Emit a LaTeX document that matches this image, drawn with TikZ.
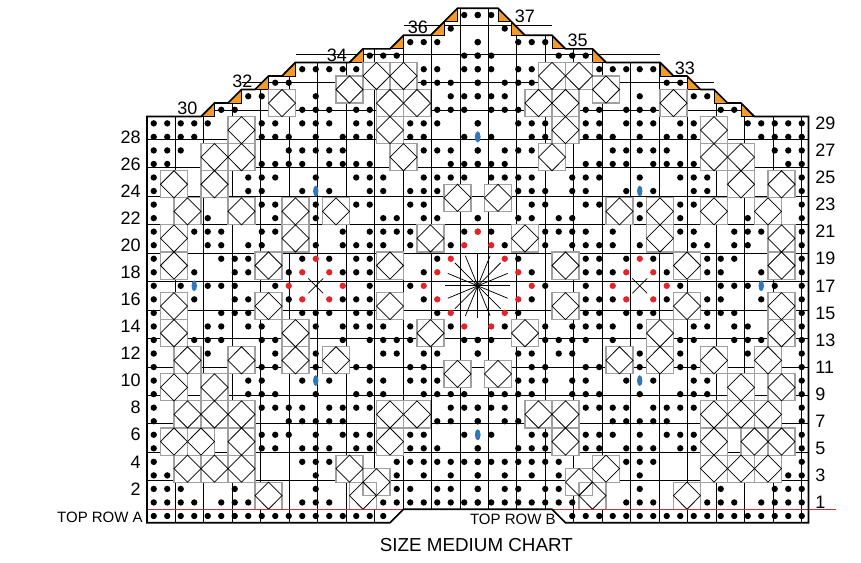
\documentclass[tikz,border=0pt]{standalone}
\usepackage{fontspec}
\setmainfont{Liberation Sans}
\definecolor{orng}{HTML}{F39A2B}
\definecolor{bluest}{HTML}{2E78BE}
\definecolor{redst}{HTML}{E3242B}
\definecolor{redline}{HTML}{C8323A}
\definecolor{blockgray}{HTML}{A0A0A0}
\newcommand\kdots[2]{\foreach \c in {#2}{\fill (\c+0.5,#1-0.5) circle (0.235); \fill (48.5-\c,#1-0.5) circle (0.235);}}
\newcommand\kred[2]{\foreach \c in {#2}{\fill[redst] (\c+0.5,#1-0.5) circle (0.235); \fill[redst] (48.5-\c,#1-0.5) circle (0.235);}}
\newcommand\kblue[2]{\foreach \c in {#2}{\fill[bluest] (\c+0.5,#1-0.5) ellipse (0.2 and 0.4); \fill[bluest] (48.5-\c,#1-0.5) ellipse (0.2 and 0.4);}}
\def\dialist{6/28,17/28,4/26,6/26,18/26,1/24,4/24,22/23,2/22,6/22,10/22,13/22,1/20,10/20,20/20,1/18,8/18,17/18,9/30,17/30,19/30,14/31,16/32,18/32,6/5,17/5,4/7,6/7,17/7,19/7,1/9,4/9,22/10,2/11,6/11,10/11,13/11,1/13,10/13,20/13,1/15,8/15,17/15,2/7,1/5,3/5,2/3,4/3,6/3,14/3,16/2,8/1,15/1}
\begin{document}
\begin{tikzpicture}[x=13.5pt,y=13.54pt,
  gridline/.style={black,line width=0.85pt},
  outline/.style={black,line width=1.7pt,line join=miter},
  blockedge/.style={blockgray,line width=1.1pt},
  diamondline/.style={black,line width=0.75pt},
  lbl/.style={font=\fontsize{18}{18}\selectfont,inner sep=0pt},
  smalllbl/.style={font=\fontsize{15}{15}\selectfont,inner sep=0pt},
  titlelbl/.style={font=\fontsize{18.8}{19}\selectfont,inner sep=0pt}]
\useasboundingbox (-10.889,-3.966) rectangle (52.889,37.61);
\fill[white] (-10.889,-3.966) rectangle (52.889,37.61);
% grid
\draw[gridline] (0,0) grid (49,29);
\draw[gridline] (0,-1) grid (18,0);
\draw[gridline] (31,-1) grid (49,0);
\draw[gridline] (18,-1) -- (19,0);
\draw[gridline] (30,0) -- (31,-1);
\foreach \r/\a/\b in {30/5/43,31/7/41,32/9/39,33/11/37,34/16/32,35/19/29,36/22/26,37/23/25}{
  \draw[gridline] (\a,\r-1) grid (\b+1,\r);
  \fill[orng] (\a-1,\r-1) -- (\a,\r-1) -- (\a,\r) -- cycle;
  \fill[orng] (\b+1,\r-1) -- (\b+2,\r-1) -- (\b+1,\r) -- cycle;
  \draw[gridline] (\a-1,\r-1) -- (\a,\r-1) -- (\a,\r);
  \draw[gridline] (\b+2,\r-1) -- (\b+1,\r-1) -- (\b+1,\r);
}
% diamond blocks
\foreach \c/\r in \dialist{
  \fill[white] (\c,\r-1) rectangle ++(2,2);
  \fill[white] (47-\c,\r-1) rectangle ++(2,2);
}
\foreach \c/\r in \dialist{
  \draw[blockedge] (\c,\r-1) rectangle ++(2,2);
  \draw[blockedge] (47-\c,\r-1) rectangle ++(2,2);
}
\foreach \c/\r in \dialist{
  \draw[diamondline] (\c+1,\r-1) -- (\c+2,\r) -- (\c+1,\r+1) -- (\c,\r) -- cycle;
  \draw[diamondline] (48-\c,\r-1) -- (49-\c,\r) -- (48-\c,\r+1) -- (47-\c,\r) -- cycle;
}
% stitches
\kdots{37}{23,24}
\kdots{36}{22}
\kdots{35}{19,20,21,24}
\kdots{34}{16,17,18,23,24}
\kdots{33}{11,12,13,14,15,20,21,23,24}
\kdots{32}{9,10,20,21,22,24}
\kdots{31}{7,8,12,22,23,24}
\kdots{30}{5,6,11,12,13,15,16,21,22,23}
\kdots{29}{0,1,2,3,4,8,9,11,12,13,15,16,19,20,21,24}
\kdots{28}{0,1,2,3,8,9,10,12,14,15,16,19,20,23}
\kblue{28}{24}
\kdots{27}{0,1,2,10,11,12,13,14,20,21,22,24}
\kdots{26}{0,1,8,9,10,11,13,14,15,16,22,23,24}
\kdots{25}{0,7,8,9,12,15,16,17,20,21,22,23}
\kdots{24}{0,7,8,11,13,16,17,19,20,21}
\kblue{24}{12}
\kdots{23}{0,8,9,12,15,16,19,20}
\kdots{22}{0,4,9,12,17,18,20,21,24}
\kdots{21}{0,3,4,5,8,9,14,16,17,18,19,23}
\kred{21}{24}
\kdots{20}{0,4,5,7,8,12,14,15,16,17,19,22}
\kred{20}{23}
\kdots{19}{0,5,6,7,11,13,15,16,21}
\kred{19}{12,22}
\kdots{18}{0,3,6,7,10,14,15,16,20}
\kred{18}{11,13,21}
\kdots{17}{0,2,4,5,6,9,16,19}
\kblue{17}{3}
\kred{17}{10,14,20}
\kdots{16}{0,3,6,7,10,14,15,16,20}
\kred{16}{11,13,21}
\kdots{15}{0,5,6,7,11,12,13,15,16,21}
\kred{15}{22}
\kdots{14}{0,4,5,7,8,12,14,15,16,17,19,22}
\kred{14}{23}
\kdots{13}{0,3,4,5,8,9,14,16,17,18,19,23,24}
\kdots{12}{0,4,9,12,17,18,20,21,24}
\kdots{11}{0,8,9,12,15,16,19,20}
\kdots{10}{0,7,8,11,13,16,17,19,20,21}
\kblue{10}{12}
\kdots{9}{0,7,8,9,12,15,16,17,20,21,22,23}
\kdots{8}{0,8,9,10,11,13,14,15,16,22,23,24}
\kdots{7}{0,10,11,12,13,14,21,22,24}
\kdots{6}{0,8,9,10,12,14,15,16,19,20,23}
\kblue{6}{24}
\kdots{5}{0,8,9,11,12,13,15,16,19,20,21,24}
\kdots{4}{0,11,12,13,18,19,20,21,22,23,24}
\kdots{3}{0,1,12,18,20,22,24}
\kdots{2}{0,1,2,6,12,18,19,21,22,24}
\kdots{1}{0,1,2,3,5,6,7,11,12,13,17,18,19,20,21,22,23,24}
\kdots{0}{0,1,2,3,4,5,6,7,8,9,10,11,12,13,14,15,16,17}
% central star
\foreach \a in {0,22.5,...,337.5}{\draw[diamondline] (24.5,16.5) -- ++(\a:2.4);}
\fill (24.5,16.5) circle (0.12);
% small crosses
\foreach \x in {12.5,36.5}{
  \draw[diamondline] (\x-0.55,15.95) -- (\x+0.55,17.05);
  \draw[diamondline] (\x-0.55,17.05) -- (\x+0.55,15.95);
}
% red line
\draw[redline,line width=0.8pt] (0,0) -- (51,0);
% outline
\draw[outline] (0,-1) -- (18,-1) -- (19,0) -- (30,0) -- (31,-1) -- (49,-1) -- (49,29) -- (45,29) -- (44,30) -- (43,30) -- (42,31) -- (41,31) -- (40,32) -- (39,32) -- (38,33) -- (34,33) -- (33,34) -- (31,34) -- (30,35) -- (28,35) -- (26,37) -- (23,37) -- (21,35) -- (19,35) -- (18,34) -- (16,34) -- (15,33) -- (11,33) -- (10,32) -- (9,32) -- (8,31) -- (7,31) -- (6,30) -- (5,30) -- (4,29) -- (0,29) -- cycle;
% labels
\foreach \r in {2,4,...,28}{\node[lbl,anchor=east] (L\r) at (-0.45,\r-0.5) {\r};}
\foreach \r in {1,3,...,29}{\node[lbl,anchor=west] (R\r) at (49.5,\r-0.5) {\r};}
\node[lbl] (T30) at (3.0,29.6) {30};
\node[lbl] (T32) at (7.07,31.6) {32};
\node[lbl] (T34) at (14.07,33.55) {34};
\node[lbl] (T36) at (20.07,35.6) {36};
\node[lbl] (T37) at (28.0,36.4) {37};
\node[lbl] (T35) at (31.9,34.6) {35};
\node[lbl] (T33) at (39.85,32.6) {33};
\node[smalllbl,anchor=east] (TRA) at (-0.3,-0.57) {TOP ROW A};
\node[smalllbl] (TRB) at (27.1,-0.72) {TOP ROW B};
\node[titlelbl] (title) at (24.4,-2.64) {SIZE MEDIUM CHART};
\end{tikzpicture}
\end{document}
